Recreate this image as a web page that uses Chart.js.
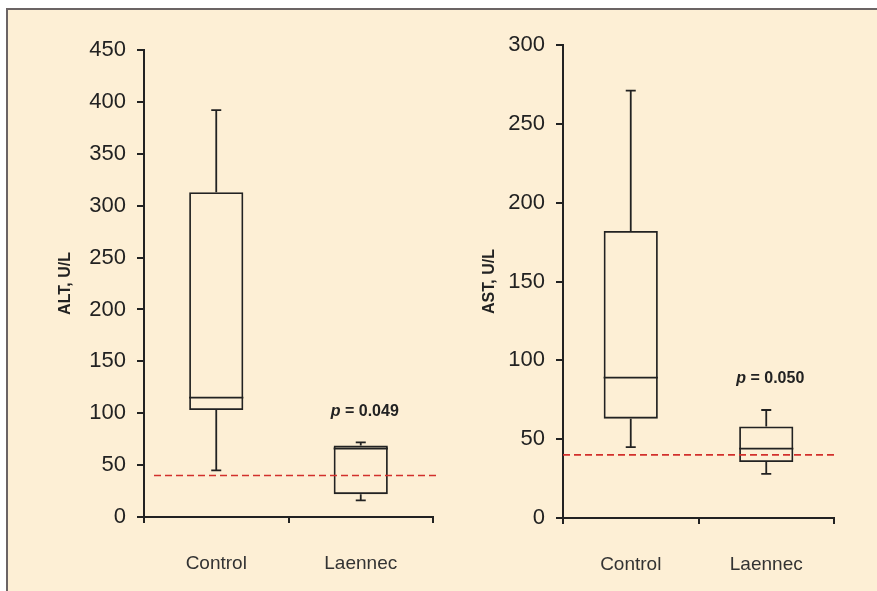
<!DOCTYPE html>
<html>
<head>
<meta charset="utf-8">
<script src="https://cdn.jsdelivr.net/npm/chart.js@4"></script>
<style>
  body { margin: 0; background: #fff; width: 877px; height: 591px; overflow: hidden; position: relative; }
  #frame { position: absolute; left: 6px; top: 8px; width: 900px; height: 700px;
           background: #fdefd5; border-left: 2px solid #6b6464; border-top: 2px solid #6b6464; }
  canvas { position: absolute; top: 0; }
  #altChart { left: 0; }
  #astChart { left: 440px; }
</style>
</head>
<body>
<div id="frame"></div>
<canvas id="altChart" width="440" height="591"></canvas>
<canvas id="astChart" width="437" height="591"></canvas>
<script>
var categories = ["Control", "Laennec"];

// ALT, U/L
var altMin = [45, 16];
var altQ1 = [103, 22];
var altMedian = [115, 66];
var altQ3 = [313, 69];
var altMax = [392, 72];

// AST, U/L
var astMin = [45, 28];
var astQ1 = [63, 35.5];
var astMedian = [89, 44];
var astQ3 = [182, 58];
var astMax = [271, 68.5];

var upperNormal = 40;
var pValues = ["0.049", "0.050"];

var ink = "#222";
var sans = "'Liberation Sans Narrow', 'Liberation Sans', Arial, sans-serif";

var boxDetails = {
    id: "boxDetails",
    afterDatasetsDraw: function (chart, args, opts) {
        var ctx = chart.ctx;
        var y = chart.scales.y;
        var area = chart.chartArea;
        var bars = chart.getDatasetMeta(0).data;
        ctx.save();
        ctx.strokeStyle = ink;
        ctx.lineWidth = 1.8;
        bars.forEach(function (bar, i) {
            var half = bar.width / 2;
            var cap = 5;
            var yMed = y.getPixelForValue(opts.median[i]);
            var yQ1 = y.getPixelForValue(opts.q1[i]);
            var yQ3 = y.getPixelForValue(opts.q3[i]);
            var yMin = y.getPixelForValue(opts.min[i]);
            var yMax = y.getPixelForValue(opts.max[i]);
            ctx.beginPath();
            ctx.moveTo(bar.x - half, yMed);
            ctx.lineTo(bar.x + half, yMed);
            ctx.moveTo(bar.x, yQ3);
            ctx.lineTo(bar.x, yMax);
            ctx.moveTo(bar.x - cap, yMax);
            ctx.lineTo(bar.x + cap, yMax);
            ctx.moveTo(bar.x, yQ1);
            ctx.lineTo(bar.x, yMin);
            ctx.moveTo(bar.x - cap, yMin);
            ctx.lineTo(bar.x + cap, yMin);
            ctx.stroke();
        });

        // upper limit of normal
        var yLim = y.getPixelForValue(opts.limit);
        ctx.strokeStyle = "#d2302c";
        ctx.lineWidth = 1.7;
        ctx.setLineDash([7, 4]);
        ctx.beginPath();
        ctx.moveTo(area.left + opts.limitInset, yLim);
        ctx.lineTo(area.right + opts.limitOver, yLim);
        ctx.stroke();
        ctx.setLineDash([]);

        // p value over the Laennec box
        var last = bars[1];
        var yText = y.getPixelForValue(opts.max[1]) - 31;
        var pFont = "italic bold 16px " + sans;
        var restFont = "bold 16px " + sans;
        var rest = " = " + opts.p;
        ctx.font = pFont;
        var w1 = ctx.measureText("p").width;
        ctx.font = restFont;
        var w2 = ctx.measureText(rest).width;
        var x0 = last.x + 4 - (w1 + w2) / 2;
        ctx.fillStyle = ink;
        ctx.textBaseline = "middle";
        ctx.textAlign = "left";
        ctx.font = pFont;
        ctx.fillText("p", x0, yText);
        ctx.font = restFont;
        ctx.fillText(rest, x0 + w1, yText);
        ctx.restore();
    },
};

function makeChart(id, set) {
    return new Chart(id, {
        type: "bar",
        data: {
            labels: categories,
            datasets: [
                {
                    data: set.q1.map(function (v, i) { return [v, set.q3[i]]; }),
                    backgroundColor: "rgba(0,0,0,0)",
                    borderColor: ink,
                    borderWidth: 1.8,
                    borderSkipped: false,
                    categoryPercentage: 1,
                    barPercentage: set.barPct,
                },
            ],
        },
        options: {
            responsive: false,
            animation: false,
            layout: {
                padding: { top: set.top, right: set.right, left: 0, bottom: 0 },
            },
            plugins: {
                legend: { display: false },
                tooltip: { enabled: false },
                boxDetails: {
                    min: set.min, q1: set.q1, median: set.median, q3: set.q3, max: set.max,
                    limit: upperNormal, p: set.p,
                    limitInset: set.limitInset, limitOver: set.limitOver,
                },
            },
            scales: {
                x: {
                    afterFit: function (s) { s.height = set.xHeight; },
                    grid: { drawOnChartArea: false, drawTicks: true, tickLength: 6, color: ink, lineWidth: 2 },
                    border: { display: true, color: ink, width: 2 },
                    ticks: { color: "#333", padding: 29, font: { family: sans, size: 19 } },
                },
                y: {
                    min: 0,
                    max: set.yMax,
                    afterFit: function (s) { s.width = set.yWidth; },
                    grid: { drawOnChartArea: false, drawTicks: true, tickLength: 7, color: ink, lineWidth: 2 },
                    border: { display: true, color: ink, width: 2 },
                    ticks: { stepSize: 50, color: ink, padding: 11, font: { family: sans, size: 22 } },
                    title: {
                        display: true,
                        text: set.title,
                        color: ink,
                        padding: { top: set.titlePad, bottom: 0 },
                        font: { family: sans, size: 16, weight: "bold" },
                    },
                },
            },
        },
        plugins: [boxDetails],
    });
}

makeChart("altChart", {
    title: "ALT, U/L", yMax: 450,
    min: altMin, q1: altQ1, median: altMedian, q3: altQ3, max: altMax, p: pValues[0],
    barPct: 0.375, top: 50, right: 7, xHeight: 74, yWidth: 144, titlePad: 56,
    limitInset: 10, limitOver: 7,
});

makeChart("astChart", {
    title: "AST, U/L", yMax: 300,
    min: astMin, q1: astQ1, median: astMedian, q3: astQ3, max: astMax, p: pValues[1],
    barPct: 0.4, top: 45, right: 43, xHeight: 73, yWidth: 123, titlePad: 40,
    limitInset: 0, limitOver: 1,
});
</script>
</body>
</html>
